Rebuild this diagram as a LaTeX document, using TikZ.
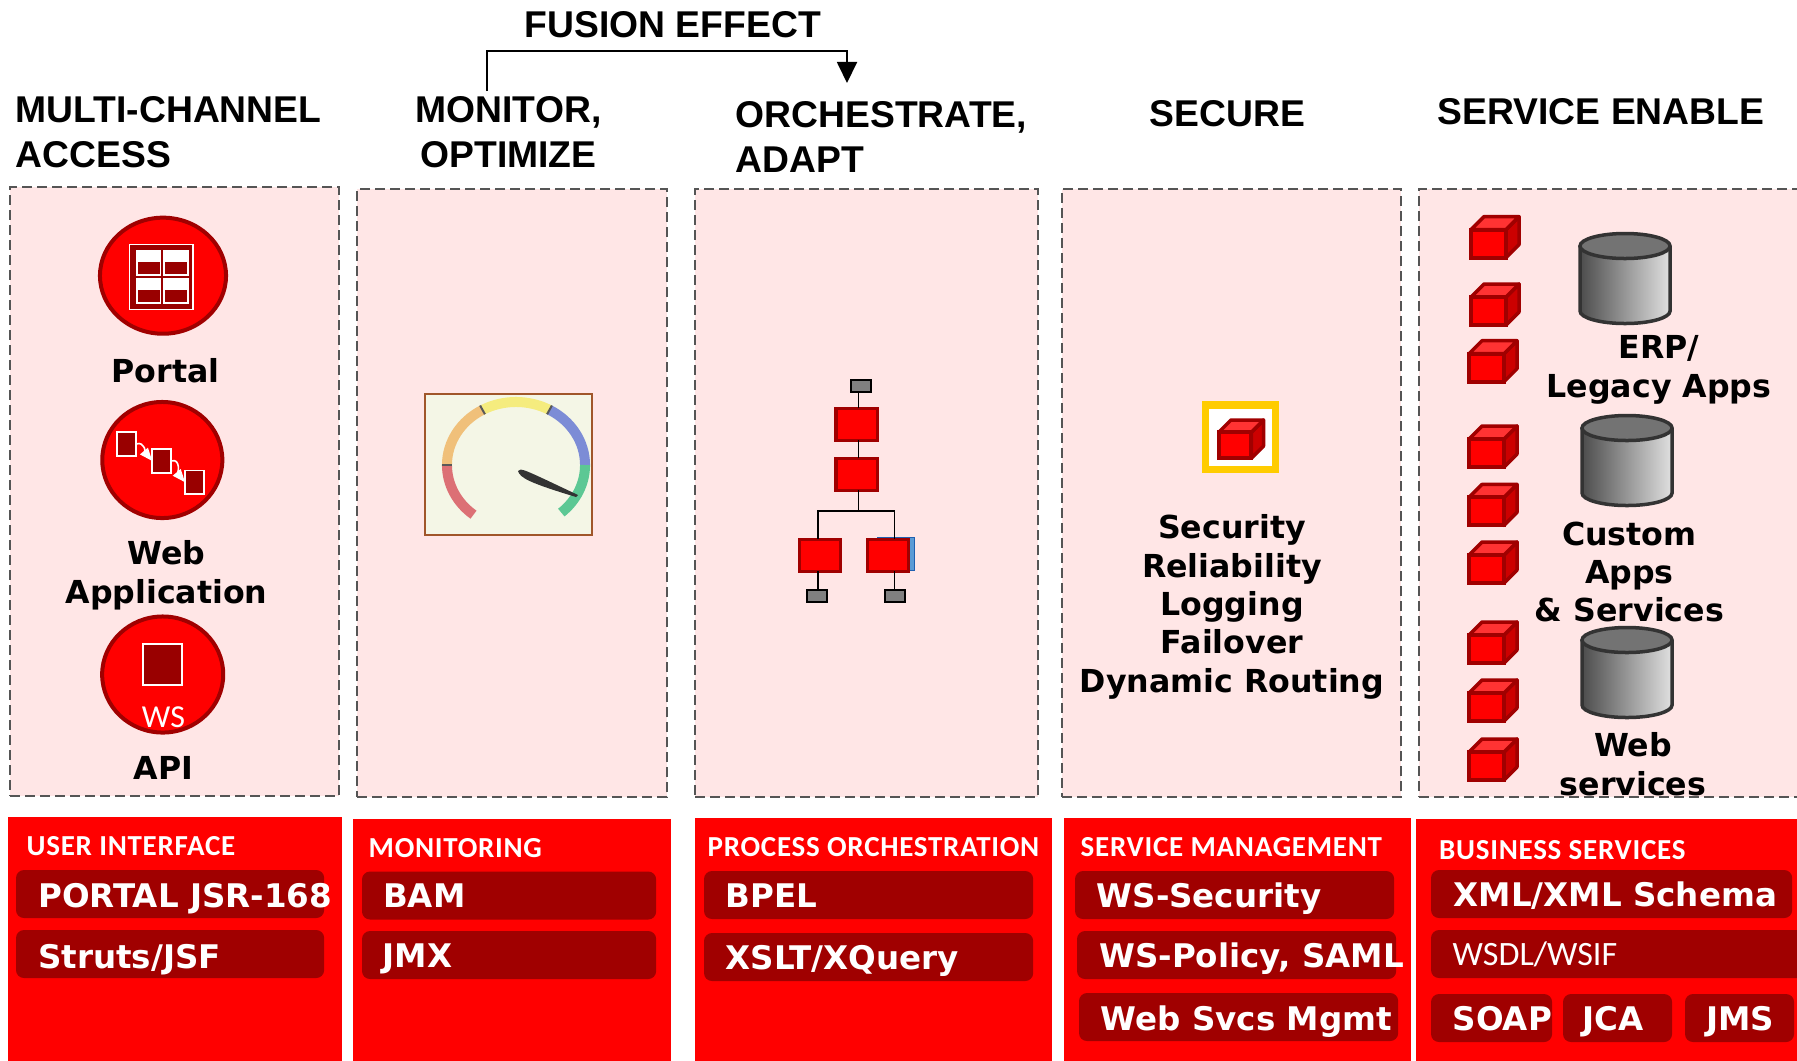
\documentclass[tikz,border=0pt]{standalone}
\usepackage{fontspec}
\setmainfont{Liberation Sans}
\newfontfamily\labelfont{DejaVu Sans Bold}
\newfontfamily\capfont{Carlito}
\newfontfamily\capheadfont[LetterSpace=2.5]{Carlito Bold}
\usetikzlibrary{shapes.geometric, arrows.meta}
\definecolor{panelpink}{HTML}{FFE6E6}
\definecolor{panelgrey}{HTML}{555555}
\definecolor{darkred}{HTML}{A00000}
\definecolor{iconred}{HTML}{990000}
\definecolor{gaugebg}{HTML}{F4F6E6}
\definecolor{gaugeframe}{HTML}{A0562A}
\definecolor{goldframe}{HTML}{FFCC00}
\definecolor{shadowblue}{HTML}{1F60B0}
\definecolor{lightblue}{HTML}{5B9BD5}
\definecolor{dialred}{HTML}{DC7075}
\definecolor{dialorange}{HTML}{F0C07A}
\definecolor{dialyellow}{HTML}{F5EC7E}
\definecolor{dialblue}{HTML}{7C8CD6}
\definecolor{dialgreen}{HTML}{5CC894}
\tikzstyle{panel} = [rectangle, anchor=north west, draw=panelgrey, fill=panelpink, line width=0.02cm, dash pattern=on 0.1cm off 0.05cm, inner sep=0, outer sep=0]
\tikzstyle{redblock} = [rectangle, anchor=north west, fill=red, minimum height=2.45cm, inner sep=0, outer sep=0]
\tikzstyle{bar} = [rectangle, anchor=north west, rounded corners=0.08cm, fill=darkred, minimum height=0.48cm, inner sep=0, outer sep=0]
\tikzstyle{bartext} = [anchor=west, text=white, inner sep=0, text height=0.24cm, text depth=0pt, font=\labelfont\fontsize{9.25}{11}\selectfont]
\tikzstyle{blockhead} = [anchor=west, text=white, inner sep=0, text height=0.19cm, text depth=0pt, font=\capheadfont\fontsize{8.25}{10}\selectfont]
\tikzstyle{head} = [anchor=north west, align=left, inner sep=0, font=\bfseries\fontsize{10.6}{12.8}\selectfont]
\tikzstyle{iconlabel} = [anchor=north, align=center, inner sep=0, font=\labelfont\fontsize{9}{10.9}\selectfont]
\tikzstyle{badge} = [ellipse, draw=darkred, fill=red, line width=0.04cm, inner sep=0, outer sep=0]
\tikzstyle{whitesq} = [rectangle, draw=white, fill=iconred, line width=0.018cm, minimum width=0.19cm, minimum height=0.235cm, inner sep=0, outer sep=0]
\tikzstyle{whitearrow} = [white, line width=0.016cm, -{Triangle[length=0.13cm,width=0.1cm]}]
\tikzstyle{orgbox} = [rectangle, draw=darkred, fill=red, line width=0.03cm, minimum width=0.41cm, minimum height=0.32cm, inner sep=0, outer sep=0]
\tikzstyle{orgend} = [rectangle, draw=black, fill=gray, line width=0.02cm, minimum width=0.2cm, minimum height=0.12cm, inner sep=0, outer sep=0]
\tikzstyle{orgback} = [rectangle, fill=shadowblue, inner sep=0, outer sep=0]
\tikzstyle{wire} = [black, line width=0.017cm]
\tikzstyle{dial} = [line width=0.1cm]
\tikzstyle{dialtick} = [black!65, line width=0.02cm]

\newcommand{\redcube}[3][1]{
\begin{scope}[shift={(#2,#3)}, scale=#1]
\filldraw [draw=darkred, fill=red!80!black, line width=0.035cm, line join=round] (37,-2) -- (50,-15) -- (50,-43) -- (37,-30) -- cycle;
\filldraw [draw=darkred, fill=red!80!white, line width=0.035cm, line join=round] (2,-30) -- (15,-43) -- (50,-43) -- (37,-30) -- cycle;
\filldraw [draw=darkred, fill=red, line width=0.04cm] (2,-2) rectangle (37,-30);
\end{scope}
}
\newcommand{\dbcan}[2]{
\begin{scope}[shift={(#1,#2)}]
\path [left color=black!70, right color=black!12] (-45,13) -- (-45,78) arc[start angle=180, end angle=360, x radius=0.45cm, y radius=0.125cm] -- (45,13) -- cycle;
\draw [black!80, line width=0.035cm] (-45,13) -- (-45,78) arc[start angle=180, end angle=360, x radius=0.45cm, y radius=0.125cm] -- (45,13);
\filldraw [draw=black!80, fill=black!55, line width=0.035cm] (0,13) ellipse [x radius=0.45cm, y radius=0.125cm];
\end{scope}
}

\begin{document}
\begin{tikzpicture}[x=0.01cm, y=-0.01cm]
\clip (0,0) rectangle (1797,1060);

% column headings
\node (fusion) [head] at (524,11) {FUSION EFFECT};
\node (multi) [head] at (15,96) {MULTI-CHANNEL\\ACCESS};
\node (monitor) [head, anchor=north, align=center] at (508.5,96) {MONITOR,\\OPTIMIZE};
\node (orch) [head] at (735,101) {ORCHESTRATE,\\ADAPT};
\node (secure) [head] at (1149,100) {SECURE};
\node (enable) [head] at (1437,98) {SERVICE ENABLE};

\coordinate (fstart) at (487,91);
\coordinate (fbend) at (847,51);
\coordinate (fend) at (847,83);
\draw [line width=0.018cm, -{Triangle[length=0.21cm,width=0.2cm]}] (fstart) |- (fbend) -- (fend);

% dashed panels
\node (paneluser) [panel, minimum width=3.29cm, minimum height=6.09cm] at (10,187) {};
\node (panelmon) [panel, minimum width=3.10cm, minimum height=6.08cm] at (357,189) {};
\node (panelorch) [panel, minimum width=3.43cm, minimum height=6.08cm] at (695,189) {};
\node (panelsec) [panel, minimum width=3.39cm, minimum height=6.08cm] at (1062,189) {};
\node (panelsvc) [panel, minimum width=4.2cm, minimum height=6.08cm] at (1419,189) {};

% multi-channel icons
\node (portal) [badge, minimum width=1.26cm, minimum height=1.16cm] at (163,275.7) {};
\node (portalframe) [rectangle, draw=white, fill=iconred, line width=0.014cm, minimum width=0.63cm, minimum height=0.65cm, inner sep=0] at (161.3,277) {};
\node (pane1) [rectangle, fill=white, minimum width=0.255cm, minimum height=0.255cm, inner sep=0] at (148.5,263) {};
\node (pane2) [rectangle, fill=white, minimum width=0.255cm, minimum height=0.255cm, inner sep=0] at (175.8,263) {};
\node (pane3) [rectangle, fill=white, minimum width=0.255cm, minimum height=0.255cm, inner sep=0] at (148.5,291) {};
\node (pane4) [rectangle, fill=white, minimum width=0.255cm, minimum height=0.255cm, inner sep=0] at (175.8,291) {};
\fill [iconred] (137.5,262) rectangle (160,274);
\fill [iconred] (164.5,262) rectangle (187,274);
\fill [iconred] (137.5,290) rectangle (160,302);
\fill [iconred] (164.5,290) rectangle (187,302);
\node (portallabel) [iconlabel] at (165.7,358) {Portal};

\node (webapp) [badge, minimum width=1.2cm, minimum height=1.16cm] at (162.3,460) {};
\node (sqa) [whitesq] at (126.7,444) {};
\node (sqb) [whitesq] at (161.8,461) {};
\node (sqc) [whitesq] at (194.6,482.3) {};
\draw [whitearrow] (sqa.east) to[out=20, in=130] (sqb.west);
\draw [whitearrow] (sqb.east) to[out=20, in=130] (sqc.west);
\node (weblabel) [iconlabel] at (166.5,540) {Web\\Application};

\node (api) [badge, minimum width=1.21cm, minimum height=1.16cm] at (162.7,674.5) {};
\node (apisq) [whitesq, minimum width=0.39cm, minimum height=0.41cm] at (162.7,664.5) {};
\node (apiws) [text=white, inner sep=0, font=\capfont\fontsize{9.1}{11}\selectfont] at (163.5,717) {WS};
\node (apilabel) [iconlabel] at (163.4,756) {API};

% gauge
\node (gauge) [rectangle, draw=gaugeframe, fill=gaugebg, line width=0.02cm, minimum width=1.67cm, minimum height=1.41cm, inner sep=0, outer sep=0, anchor=north west] at (424.5,394) {};
\coordinate (hub) at (516,465);
\draw [dial, dialred] (hub) ++(180:0.69cm and 0.63cm) arc[start angle=180, end angle=232, x radius=0.69cm, y radius=0.63cm];
\draw [dial, dialorange] (hub) ++(119:0.69cm and 0.63cm) arc[start angle=119, end angle=180, x radius=0.69cm, y radius=0.63cm];
\draw [dial, dialyellow] (hub) ++(61:0.69cm and 0.63cm) arc[start angle=61, end angle=119, x radius=0.69cm, y radius=0.63cm];
\draw [dial, dialblue] (hub) ++(0:0.69cm and 0.63cm) arc[start angle=0, end angle=61, x radius=0.69cm, y radius=0.63cm];
\draw [dial, dialgreen] (hub) ++(-49:0.69cm and 0.63cm) arc[start angle=-49, end angle=0, x radius=0.69cm, y radius=0.63cm];
\draw [dialtick] (hub) ++(180:0.64cm and 0.63cm) -- ++(180:0.1cm);
\draw [dialtick] (hub) ++(119:0.64cm and 0.58cm) -- ++(119:0.1cm);
\draw [dialtick] (hub) ++(61:0.64cm and 0.58cm) -- ++(61:0.1cm);
\fill [black!80] (518,471) .. controls (520,467) and (525,470) .. (578,495) -- (576,497) .. controls (530,483) and (520,478) .. cycle;

% orchestration tree
\node (backa) [orgback, minimum width=0.41cm, minimum height=0.33cm] at (858,424.5) {};
\node (backb) [orgback, minimum width=0.38cm, minimum height=0.33cm] at (860,475) {};
\node (backc) [orgback, minimum width=0.38cm, minimum height=0.33cm] at (820,554.5) {};
\node (backd) [orgback, draw=shadowblue, fill=lightblue, line width=0.01cm, minimum width=0.375cm, minimum height=0.33cm] at (896,554) {};
\node (orgtop) [orgend] at (860.5,385.5) {};
\node (orga) [orgbox] at (856.5,424) {};
\node (orgb) [orgbox] at (856.5,474) {};
\node (orgc) [orgbox] at (820,555) {};
\node (orgd) [orgbox] at (888,555) {};
\node (orgl) [orgend] at (816.5,595.5) {};
\node (orgr) [orgend] at (895,595.5) {};
\coordinate (trunk) at (858.4,510.7);
\coordinate (busl) at (818,510.7);
\coordinate (busr) at (894.5,510.7);
\draw [wire] (orgtop.south -| trunk) -- (orga.north -| trunk);
\draw [wire] (orga.south -| trunk) -- (orgb.north -| trunk);
\draw [wire] (orgb.south -| trunk) -- (trunk);
\draw [wire] (orgc.north -| busl) -- (busl) -- (busr) -- (orgd.north -| busr);
\draw [wire] (orgc.south -| busl) -- (orgl.north -| busl);
\draw [wire] (orgd.south -| busr) -- (orgr.north -| busr);

% secure column
\node (secframe) [rectangle, draw=goldframe, fill=white, line width=0.075cm, minimum width=0.7cm, minimum height=0.645cm, inner sep=0, outer sep=0, anchor=north west] at (1205.5,405) {};
\redcube[0.93]{1217}{460}
\node (seclist) [iconlabel] at (1232,514) {Security\\Reliability\\Logging\\Failover\\Dynamic Routing};

% service enable column
\redcube{1469}{259.6}
\redcube{1469}{327}
\redcube{1467}{383.7}
\redcube{1467}{469}
\redcube{1467}{527.4}
\redcube{1467}{585}
\redcube{1467}{665}
\redcube{1467}{723}
\redcube{1467}{782}
\dbcan{1625}{233}
\dbcan{1627}{415}
\dbcan{1627}{627}
\node (erplabel) [iconlabel] at (1659,335) {ERP/\\Legacy Apps};
\node (customlabel) [iconlabel] at (1629.4,521) {Custom\\Apps\\\& Services};
\node (wslabel) [iconlabel] at (1633,732) {Web\\services};

% red blocks
\node (blockuser) [redblock, minimum width=3.34cm] at (8,817) {};
\node (blockmon) [redblock, minimum width=3.18cm] at (353,819) {};
\node (blockorch) [redblock, minimum width=3.57cm] at (695,818) {};
\node (blocksec) [redblock, minimum width=3.47cm] at (1064,818) {};
\node (blocksvc) [redblock, minimum width=3.81cm] at (1416,819) {};

\node (headuser) [blockhead] at (26,846) {USER INTERFACE};
\node (headmon) [blockhead] at (368,848) {MONITORING};
\node (headorch) [blockhead] at (707,847) {PROCESS ORCHESTRATION};
\node (headsec) [blockhead] at (1080,847) {SERVICE MANAGEMENT};
\node (headsvc) [blockhead] at (1438.5,849.5) {BUSINESS SERVICES};

\node (barportal) [bar, minimum width=3.08cm] at (16,870) {};
\node (barstruts) [bar, minimum width=3.08cm] at (16,930) {};
\node (barbam) [bar, minimum width=2.94cm] at (362,871.5) {};
\node (barjmx) [bar, minimum width=2.94cm] at (362,931) {};
\node (barbpel) [bar, minimum width=3.29cm] at (704,871) {};
\node (barxslt) [bar, minimum width=3.29cm] at (704,933) {};
\node (barsec) [bar, minimum width=3.19cm] at (1075,871) {};
\node (barpol) [bar, minimum width=3.19cm] at (1077,931) {};
\node (barmgmt) [bar, minimum width=3.19cm] at (1079,993) {};
\node (barxml) [bar, minimum width=3.61cm] at (1431,870) {};
\node (barwsdl) [bar, minimum width=3.8cm] at (1431,930) {};
\node (barsoap) [bar, minimum width=1.21cm] at (1431,994) {};
\node (barjca) [bar, minimum width=1.09cm] at (1563,994) {};
\node (barjms) [bar, minimum width=1.09cm] at (1685,994) {};

\node (txtportal) [bartext] at (37.5,895) {PORTAL JSR-168};
\node (txtstruts) [bartext] at (37.5,956) {Struts/JSF};
\node (txtbam) [bartext] at (382.5,895) {BAM};
\node (txtjmx) [bartext] at (382,955) {JMX};
\node (txtbpel) [bartext] at (725,895) {BPEL};
\node (txtxslt) [bartext] at (725,957.6) {XSLT/XQuery};
\node (txtsec) [bartext] at (1096,895) {WS-Security};
\node (txtpol) [bartext] at (1098.5,955) {WS-Policy, SAML};
\node (txtmgmt) [bartext] at (1100,1018) {Web Svcs Mgmt};
\node (txtxml) [bartext] at (1453,894) {XML/XML Schema};
\node (txtwsdl) [bartext, text height=0.22cm, font=\capfont\fontsize{9.7}{11}\selectfont] at (1452,954) {WSDL/WSIF};
\node (txtsoap) [bartext] at (1452,1018) {SOAP};
\node (txtjca) [bartext] at (1582,1018) {JCA};
\node (txtjms) [bartext] at (1705.5,1018) {JMS};
\end{tikzpicture}
\end{document}
